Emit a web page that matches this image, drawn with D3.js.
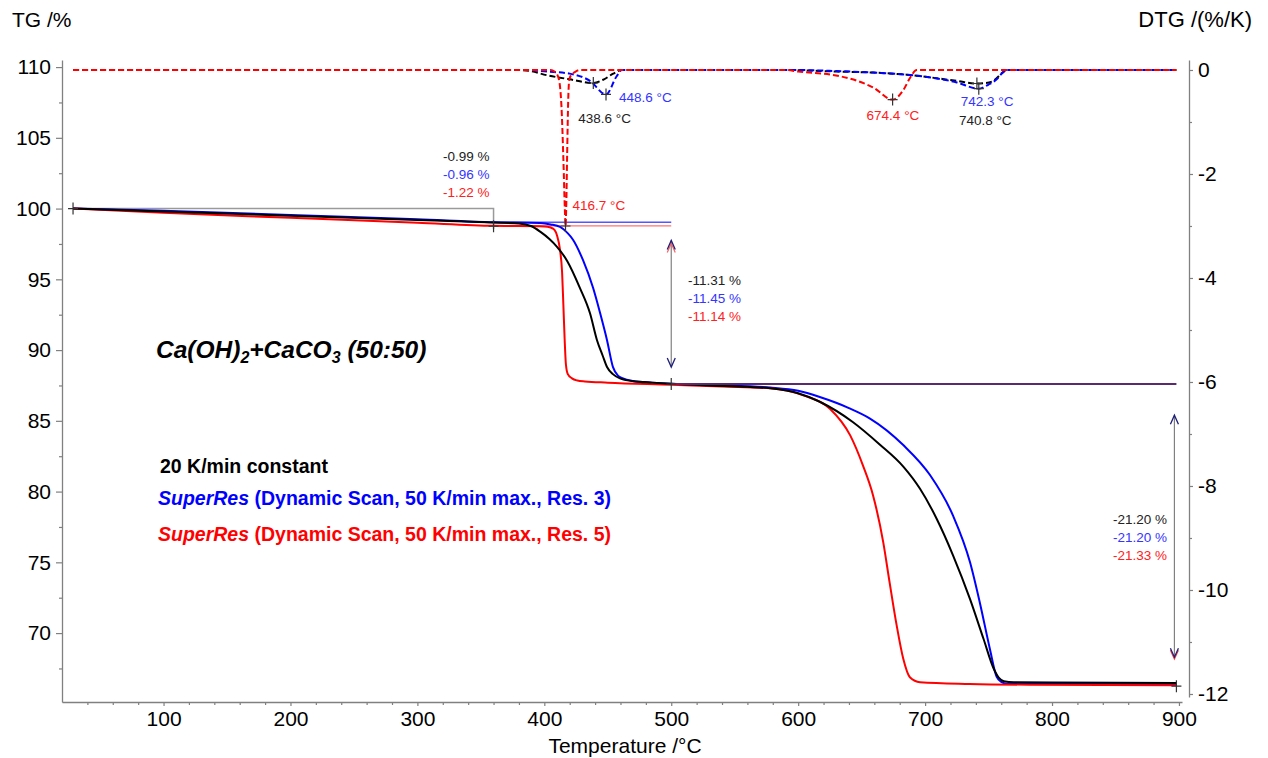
<!DOCTYPE html>
<html>
<head>
<meta charset="utf-8">
<script src="https://cdn.jsdelivr.net/npm/d3@7"></script>
<style>
  body { margin: 0; background: #fff; }
  text { font-family: "Liberation Sans", Arial, sans-serif; }
</style>
</head>
<body>
<div id="chart-area"></div>
<script>
// TG curves: [temperature °C, mass %]
const tgBlack = [[28.7,100],[100,99.8],[200,99.5],[300,99.2],[360,99.01],[380,98.95],[390,98.75],[397,98.35],[404,97.85],[410,97.3],[418,96.3],[428,94.4],[436,92.6],[441.5,90.7],[446,89.6],[449.4,88.8],[454,88.3],[459.6,88.0],[470,87.8],[485,87.7],[500,87.62],[530,87.5],[560,87.4],[578,87.3],[600,86.95],[617,86.35],[643,84.92],[664,83.35],[683,81.75],[696,80.2],[709,78.1],[722,75.5],[735.4,72.4],[746,69.6],[754,67.5],[758,66.85],[762,66.6],[770,66.52],[800,66.5],[898,66.48]];
const tgBlue = [[28.7,100],[100,99.85],[200,99.55],[300,99.25],[360,99.04],[396.6,98.98],[405,98.88],[412.4,98.7],[418,98.3],[422.6,97.8],[430.5,96.35],[438.4,94.4],[444,92.6],[449.4,90.7],[454.1,88.8],[458,88.2],[462,88.0],[470,87.82],[485,87.7],[500,87.62],[530,87.55],[560,87.45],[578,87.35],[600,87.12],[617,86.68],[640,85.9],[656.6,85.16],[683,83.27],[704,81.15],[722,78.3],[735.4,75.0],[743,72.2],[751,68.9],[756.4,66.9],[760,66.55],[764.3,66.42],[800,66.4],[898,66.39]];
const tgRed = [[28.7,100],[100,99.7],[200,99.35],[300,99.0],[360,98.78],[400,98.74],[405,98.66],[408,98.5],[410,98.1],[412.4,97.06],[414,95.5],[415,93.2],[416,90.8],[417,89.0],[418.5,88.3],[421.8,88.0],[426,87.85],[432,87.78],[450,87.7],[500,87.55],[540,87.42],[578,87.3],[604,86.8],[625,85.86],[641,83.97],[651,81.85],[659,79.73],[667,76.43],[672,73.6],[677.6,70.54],[682.8,68.18],[688,66.88],[696,66.53],[735,66.41],[782,66.35],[898,66.31]];

// DTG curves: [temperature °C, %/K]
const dtgBlack = [[28.7,0],[380,0],[388.7,-0.02],[402,-0.1],[420.2,-0.18],[438.6,-0.25],[447,-0.18],[454.3,-0.07],[461,0],[590,0],[630,-0.03],[659,-0.05],[685.5,-0.09],[725,-0.21],[740.8,-0.26],[748,-0.25],[753.7,-0.21],[761.6,-0.04],[764.3,0],[898,0]];
const dtgBlue = [[28.7,0],[385,0],[402,-0.03],[420,-0.07],[436,-0.21],[448.6,-0.47],[457,-0.12],[461,0],[595,0],[630,-0.02],[659,-0.05],[685.5,-0.09],[725,-0.24],[742.3,-0.36],[750,-0.28],[756.4,-0.18],[761.6,-0.04],[764.3,0],[898,0]];
const dtgRed = [[28.7,0],[405,0],[408,-0.03],[410,-0.08],[412,-0.25],[413.5,-0.7],[415,-1.7],[416.2,-2.7],[416.7,-3.0],[417.3,-2.6],[418,-1.6],[418.8,-0.6],[419.6,-0.2],[421,-0.1],[424,-0.04],[428,0],[590,0],[600,-0.03],[633,-0.12],[659.3,-0.34],[674.4,-0.57],[683,-0.38],[688.2,-0.15],[693.4,0],[898,0]];

// DTG peaks: [temperature, value]
const peaksBlack = [[438.6,-0.25],[740.8,-0.26]];
const peaksBlue = [[448.6,-0.47],[742.3,-0.36]];
const peaksRed = [[416.7,-3.0],[674.4,-0.57]];

// mass steps (black, blue, red)
const step1Labels = ["-0.99 %", "-0.96 %", "-1.22 %"];
const step2Labels = ["-11.31 %", "-11.45 %", "-11.14 %"];
const step3Labels = ["-21.20 %", "-21.20 %", "-21.33 %"];
const step1Levels = [99.01, 99.04, 98.78];
const stepTemps = [28.7, 360, 500, 898];
const plateau2 = 87.6;
const plateau3 = 66.3;

const tgTicks = [70, 75, 80, 85, 90, 95, 100, 105, 110];
const tgMinor = [67.5, 72.5, 77.5, 82.5, 87.5, 92.5, 97.5, 102.5, 107.5];
const dtgTicks = [0, -2, -4, -6, -8, -10, -12];
const dtgMinor = [-1, -3, -5, -7, -9, -11];
const tempTicks = [100, 200, 300, 400, 500, 600, 700, 800, 900];
const tempMinor = [40, 60, 80, 120, 140, 160, 180, 220, 240, 260, 280, 320, 340, 360, 380, 420, 440, 460, 480, 520, 540, 560, 580, 620, 640, 660, 680, 720, 740, 760, 780, 820, 840, 860, 880];

const legendLines = ["20 K/min constant", "(Dynamic Scan, 50 K/min max., Res. 3)", "(Dynamic Scan, 50 K/min max., Res. 5)"];

const colors = ["#000000", "#0000ff", "#ff0000"];
const textColors = ["#222222", "#3535ff", "#ff2020"];
const axisColor = "#808080";

const svg = d3.select("#chart-area").append("svg")
    .attr("width", 1268)
    .attr("height", 758);

const x = d3.scaleLinear().domain([20, 902.4]).range([62, 1182]);
const yTG = d3.scaleLinear().domain([65.13, 110.5]).range([702, 60]);
const yDTG = d3.scaleLinear().domain([-12.058, 0.192]).range([697, 60]);

function styleAxis(sel, fontSize) {
  sel.selectAll("path.domain").attr("stroke", axisColor).attr("stroke-width", 1.3);
  sel.selectAll(".tick line").attr("stroke", axisColor).attr("stroke-width", 1.2);
  sel.selectAll(".tick text").attr("fill", "#000").style("font-size", fontSize + "px")
      .style("font-family", '"Liberation Sans", Arial, sans-serif');
}

// x axis
const xAxisG = svg.append("g").attr("transform", "translate(0,702)")
    .call(d3.axisBottom(x).tickValues(tempTicks).tickSize(4).tickSizeOuter(0).tickPadding(5).tickFormat(d3.format("d")));
styleAxis(xAxisG, 21);
const xMinorG = svg.append("g").attr("transform", "translate(0,702)")
    .call(d3.axisBottom(x).tickValues(tempMinor).tickSize(3).tickFormat(""));
xMinorG.select("path.domain").remove();
styleAxis(xMinorG, 21);

// left axis
const yAxisG = svg.append("g").attr("transform", "translate(62,0)")
    .call(d3.axisLeft(yTG).tickValues(tgTicks).tickSize(6).tickSizeOuter(0).tickPadding(5).tickFormat(d3.format("d")));
styleAxis(yAxisG, 21);
const yMinorG = svg.append("g").attr("transform", "translate(62,0)")
    .call(d3.axisLeft(yTG).tickValues(tgMinor).tickSize(3).tickFormat(""));
yMinorG.select("path.domain").remove();
styleAxis(yMinorG, 21);

// right axis
const rAxisG = svg.append("g").attr("transform", "translate(1189,0)")
    .call(d3.axisRight(yDTG).tickValues(dtgTicks).tickSize(4).tickSizeOuter(0).tickPadding(5).tickFormat((d) => String(d)));
styleAxis(rAxisG, 21);
const rMinorG = svg.append("g").attr("transform", "translate(1189,0)")
    .call(d3.axisRight(yDTG).tickValues(dtgMinor).tickSize(3).tickFormat(""));
rMinorG.select("path.domain").remove();
styleAxis(rMinorG, 21);

// axis titles
svg.append("text").attr("x", 12).attr("y", 27).style("font-size", "21px").text("TG /%");
svg.append("text").attr("x", 1252).attr("y", 27).attr("text-anchor", "end").style("font-size", "22px").text("DTG /(%/K)");
svg.append("text").attr("x", 625).attr("y", 753).attr("text-anchor", "middle").style("font-size", "21px").text("Temperature /°C");

// step 1 bracket and level lines
const gAnn = svg.append("g");
gAnn.append("path")
    .attr("d", "M" + x(stepTemps[0]) + "," + yTG(100) + "H" + x(stepTemps[1]) + "V" + yTG(98.55))
    .attr("fill", "none").attr("stroke", "#9a9a9a").attr("stroke-width", 1.5);
gAnn.append("line")
    .attr("x1", x(stepTemps[1])).attr("x2", x(stepTemps[2]))
    .attr("y1", yTG(step1Levels[1])).attr("y2", yTG(step1Levels[1]))
    .attr("stroke", "#5555ff").attr("stroke-width", 1.5);
gAnn.append("line")
    .attr("x1", x(stepTemps[1])).attr("x2", x(stepTemps[2]))
    .attr("y1", yTG(step1Levels[2])).attr("y2", yTG(step1Levels[2]))
    .attr("stroke", "#ff7070").attr("stroke-width", 1.2);

// TG curves
const tgLine = d3.line().x((d) => x(d[0])).y((d) => yTG(d[1])).curve(d3.curveMonotoneX);
[[tgBlue, 1], [tgRed, 2], [tgBlack, 0]].forEach(([data, i]) => {
  svg.append("path").datum(data)
      .attr("d", tgLine)
      .attr("fill", "none")
      .attr("stroke", colors[i])
      .attr("stroke-width", 2);
});

// plateau line after step 2
svg.append("line")
    .attr("x1", x(stepTemps[2])).attr("x2", x(stepTemps[3]))
    .attr("y1", yTG(plateau2)).attr("y2", yTG(plateau2))
    .attr("stroke", "#5a2a6e").attr("stroke-width", 2);

// DTG curves
const dtgLine = d3.line().x((d) => x(d[0])).y((d) => yDTG(d[1])).curve(d3.curveMonotoneX);
[[dtgBlack, 0], [dtgBlue, 1], [dtgRed, 2]].forEach(([data, i]) => {
  svg.append("path").datum(data)
      .attr("d", dtgLine)
      .attr("fill", "none")
      .attr("stroke", colors[i])
      .attr("stroke-width", 2)
      .attr("stroke-dasharray", "6,3");
});

// plus markers
function plus(px, py) {
  svg.append("path")
      .attr("d", "M" + (px - 5) + "," + py + "H" + (px + 5) + "M" + px + "," + (py - 6) + "V" + (py + 6))
      .attr("stroke", "#333").attr("stroke-width", 1.2);
}
plus(x(stepTemps[0]), yTG(100));
plus(x(stepTemps[1]), yTG(98.75));
plus(x(stepTemps[2]), yTG(plateau2));
plus(x(stepTemps[3]), yTG(plateau3 - 0.05));

// peak markers and labels (dx, dy offsets from marker)
const peakSets = [[peaksBlack, 0, [[-15, 40], [-18, 41]]], [peaksBlue, 1, [[13, 8], [-18, 17]]], [peaksRed, 2, [[7, -16], [-26, 20]]]];
peakSets.forEach(([peaks, i, offs]) => {
  peaks.forEach((p, j) => {
    const px = x(p[0]), py = yDTG(p[1]);
    plus(px, py);
    svg.append("text")
        .attr("x", px + offs[j][0]).attr("y", py + offs[j][1])
        .attr("fill", textColors[i])
        .style("font-size", "13.5px")
        .text(p[0].toFixed(1) + " °C");
  });
});

// step loss labels
function stepText(labels, tx, ty, anchor) {
  labels.forEach((s, i) => {
    svg.append("text")
        .attr("x", tx).attr("y", ty + i * 18)
        .attr("text-anchor", anchor)
        .attr("fill", textColors[i])
        .style("font-size", "13.5px")
        .text(s);
  });
}
stepText(step1Labels, 443, 161, "start");
stepText(step2Labels, 688, 285, "start");
stepText(step3Labels, 1167, 524, "end");

// double arrows
function dblArrow(px, yTop, yBot) {
  svg.append("line").attr("x1", px).attr("x2", px).attr("y1", yTop).attr("y2", yBot)
      .attr("stroke", "#808080").attr("stroke-width", 1.2);
  const head = (ty, dir, col, w) => svg.append("path")
      .attr("d", "M" + (px - 4) + "," + (ty + dir * 9) + "L" + px + "," + ty + "L" + (px + 4) + "," + (ty + dir * 9))
      .attr("fill", "none").attr("stroke", col).attr("stroke-width", w);
  return head;
}
const h1 = dblArrow(x(stepTemps[2]), yTG(97.75), yTG(88.8));
h1(yTG(97.75) + 3, 1, "#ff6060", 1.2);
h1(yTG(97.75), 1, "#1f1f7a", 1.3);
h1(yTG(88.8), -1, "#1f1f7a", 1.3);
const h2 = dblArrow(x(stepTemps[3]) - 2, yTG(85.4), yTG(68.3));
h2(yTG(85.4), 1, "#1f1f7a", 1.3);
h2(yTG(68.3) + 2, -1, "#ff4040", 1.2);
h2(yTG(68.3), -1, "#1f1f7a", 1.3);

// sample title
const title = svg.append("text").attr("x", 156).attr("y", 358)
    .style("font-size", "24.5px").style("font-weight", "bold").style("font-style", "italic");
title.append("tspan").text("Ca(OH)");
title.append("tspan").attr("dy", 5).style("font-size", "16px").text("2");
title.append("tspan").attr("dy", -5).text("+CaCO");
title.append("tspan").attr("dy", 5).style("font-size", "16px").text("3");
title.append("tspan").attr("dy", -5).text(" (50:50)");

// legend
svg.append("text").attr("x", 160).attr("y", 473)
    .style("font-size", "19.5px").style("font-weight", "bold").attr("fill", colors[0])
    .text(legendLines[0]);
[1, 2].forEach((i) => {
  const t = svg.append("text").attr("x", 158).attr("y", i === 1 ? 505 : 541)
      .style("font-size", "19.5px").style("font-weight", "bold").attr("fill", colors[i]);
  t.append("tspan").style("font-style", "italic").text("SuperRes");
  t.append("tspan").text(" " + legendLines[i]);
});
</script>
</body>
</html>
